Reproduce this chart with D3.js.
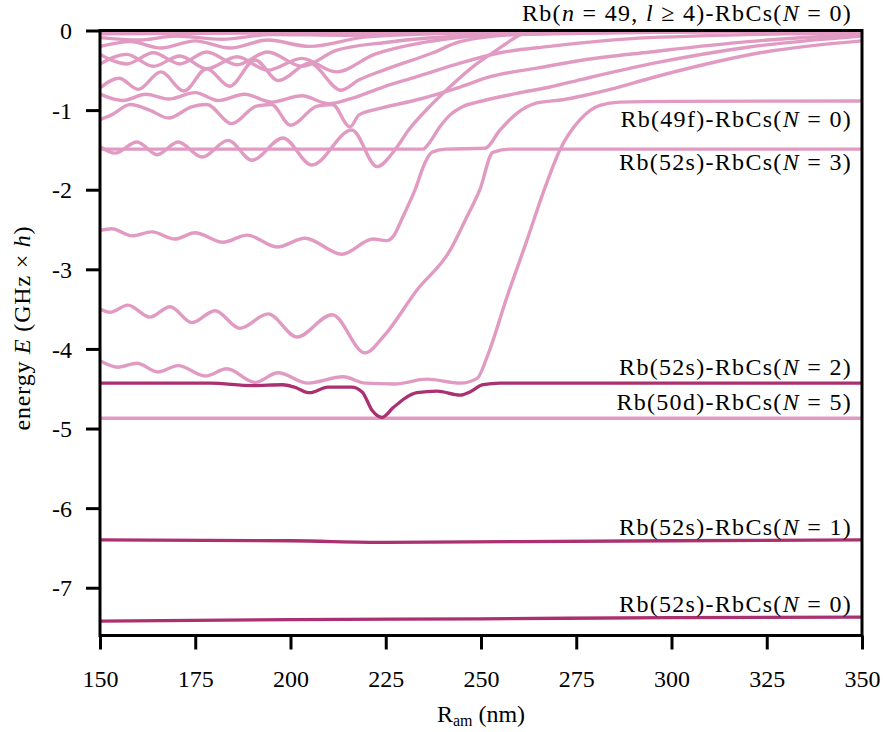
<!DOCTYPE html>
<html><head><meta charset="utf-8">
<script src="https://cdn.jsdelivr.net/npm/d3@7"></script>
<style>body{margin:0;background:#fff}</style>
</head><body>
<svg id="c" width="883" height="732"></svg>
<script>
const xTicks=[150,175,200,225,250,275,300,325,350];
const yTicks=[0,-1,-2,-3,-4,-5,-6,-7];
// dark (Rb(52s)) curves
const dN0=[[150,-7.42],[200,-7.40],[250,-7.39],[300,-7.375],[350,-7.37]];
const dN1=[[150,-6.40],[200,-6.41],[225,-6.43],[260,-6.42],[300,-6.41],[350,-6.40]];
const dN2=[[150,-4.43],[179,-4.43],[190,-4.46],[198,-4.45],[201,-4.48],[205,-4.55],[209.8,-4.48],[216,-4.48],[218.8,-4.54],[221.4,-4.77],[224,-4.86],[226.9,-4.74],[230,-4.62],[233.2,-4.55],[238.5,-4.53],[244.5,-4.58],[247.1,-4.54],[250.5,-4.45],[255,-4.43],[300,-4.43],[350,-4.43]];
// light curves
const l50d=[[150,-4.87],[250,-4.87],[350,-4.87]];
const lP1=[[150,-4.15],[154.7,-4.23],[159.7,-4.18],[165.2,-4.29],[170.5,-4.21],[177.6,-4.34],[183.3,-4.25],[190.7,-4.42],[196.7,-4.30],[204.6,-4.43],[213.8,-4.35],[219.6,-4.43],[227.4,-4.44],[235.8,-4.38],[244.5,-4.43],[249,-4.37],[251.6,-4.10],[256.8,-3.35],[262.1,-2.63],[266.3,-2.04],[270.7,-1.50],[276,-1.12],[281.2,-0.94],[286.5,-0.90],[300,-0.89],[350,-0.885]];
const lP2=[[150,-3.50],[152.6,-3.54],[157.3,-3.45],[163.1,-3.60],[168.4,-3.47],[174.1,-3.67],[180.2,-3.52],[186.7,-3.74],[194.1,-3.56],[201.7,-3.85],[210.9,-3.57],[219.6,-4.05],[224.3,-3.85],[233.2,-3.26],[241.9,-2.76],[246.3,-2.34],[249.7,-2.00],[253.1,-1.53],[257.6,-1.49],[300,-1.49],[350,-1.49]];
const lP4=[[150,-2.51],[153.1,-2.49],[158.4,-2.58],[163.6,-2.53],[169.7,-2.62],[174.9,-2.54],[182.3,-2.66],[188.6,-2.57],[196.5,-2.72],[203.8,-2.61],[213.5,-2.81],[221.7,-2.62],[225.3,-2.64],[226.9,-2.59],[229.5,-2.34],[232.7,-2.00],[235.3,-1.66],[237.1,-1.53],[240.6,-1.49],[251,-1.48],[255,-1.25],[259.4,-1.04],[264.7,-0.91],[271.5,-0.87],[276.8,-0.82],[283.9,-0.74],[294.4,-0.60],[307.5,-0.44],[323.2,-0.28],[350,-0.13]];
const lN3=[[150,-1.49],[200,-1.49],[234.8,-1.49],[236.6,-1.40],[239.2,-1.21],[241.9,-1.06],[245,-0.96],[249,-0.90],[259.4,-0.79],[268.1,-0.71],[276.8,-0.61],[294.4,-0.42],[320,-0.21],[350,-0.07]];
const lP3=[[150,-1.46],[153.9,-1.54],[159.7,-1.40],[165,-1.56],[170.5,-1.40],[176.8,-1.59],[183.6,-1.38],[189.9,-1.63],[198,-1.35],[205.6,-1.69],[216.1,-1.25],[222.7,-1.71],[227.4,-1.50],[231,-1.25],[236,-0.98],[242,-0.70],[248,-0.45],[254,-0.25],[259.7,-0.07],[264,0.02]];
const lC1=[[150,-1.12],[153,-1.06],[158,-0.93],[163,-1.00],[168,-1.10],[174,-0.96],[178,-0.93],[184.6,-1.17],[191,-0.95],[195,-0.93],[200,-1.19],[207,-0.95],[211,-0.93],[215.6,-1.21],[218,-1.06],[224.3,-0.97],[233.2,-0.87],[244.5,-0.71],[252.4,-0.58],[265,-0.47],[276.8,-0.37],[294.4,-0.27],[320,-0.14],[350,-0.05]];
const lC1b=[[150,-0.80],[156,-0.88],[162,-0.80],[168,-0.86],[175,-0.78],[181,-0.88],[188,-0.80],[195,-0.90],[203,-0.82],[210,-0.92],[215.6,-0.86],[224.3,-0.71],[233.2,-0.58],[244.5,-0.41],[255,-0.28],[268,-0.20],[294,-0.09],[350,-0.03]];
const lC2=[[150,-0.72],[155,-0.60],[160,-0.74],[166,-0.52],[172,-0.76],[178,-0.48],[184,-0.70],[190.7,-0.37],[196.8,-0.63],[205,-0.41],[213.3,-0.75],[218,-0.62],[224.3,-0.50],[237.4,-0.28],[244.5,-0.14],[260,-0.05],[300,-0.02],[350,-0.005]];
const lW1=[[150,-0.42],[157,-0.30],[164,-0.45],[171,-0.32],[178,-0.48],[186,-0.33],[194,-0.50],[203,-0.35],[212,-0.52],[222,-0.30],[235,-0.15],[255,-0.05],[300,-0.01],[350,0]];
const lW2=[[150,-0.30],[157,-0.42],[164,-0.28],[171,-0.42],[178,-0.27],[186,-0.43],[194,-0.27],[203,-0.45],[212,-0.25],[225,-0.15],[250,-0.06],[300,-0.015],[350,0]];
const lW3=[[150,-0.20],[158,-0.14],[166,-0.22],[175,-0.13],[184,-0.22],[194,-0.12],[205,-0.20],[220,-0.08],[250,-0.03],[350,0]];
const lW4=[[150,-0.09],[160,-0.12],[170,-0.07],[182,-0.11],[195,-0.05],[215,-0.06],[250,-0.02],[350,0]];
const lW5=[[150,-0.04],[200,-0.03],[350,-0.005]];
const lightCurves=[l50d,lW5,lW4,lW3,lW2,lW1,lC2,lC1b,lC1,lP3,lN3,lP4,lP2,lP1];
const darkCurves=[dN2,dN1,dN0];
const labels=[
 {seg:[["Rb(",0],["n",1],[" = 49, ",0],["l",1],[" ≥ 4)-RbCs(",0],["N",1],[" = 0)",0]],y:21},
 {seg:[["Rb(49f)-RbCs(",0],["N",1],[" = 0)",0]],y:127},
 {seg:[["Rb(52s)-RbCs(",0],["N",1],[" = 3)",0]],y:170},
 {seg:[["Rb(52s)-RbCs(",0],["N",1],[" = 2)",0]],y:375},
 {seg:[["Rb(50d)-RbCs(",0],["N",1],[" = 5)",0]],y:410},
 {seg:[["Rb(52s)-RbCs(",0],["N",1],[" = 1)",0]],y:535},
 {seg:[["Rb(52s)-RbCs(",0],["N",1],[" = 0)",0]],y:612}
];
const light="#e19bc3", dark="#aa3070";
const FONT="'Liberation Serif','Times New Roman',serif";
const svg=d3.select("#c");
const x=d3.scaleLinear().domain([150,350]).range([100,862]);
const y=d3.scaleLinear().domain([-7.6,0]).range([635.5,30.5]);
svg.append("defs").append("clipPath").attr("id","cl").append("rect").attr("x",100).attr("y",30.5).attr("width",762).attr("height",605);
const line=d3.line().x(d=>x(d[0])).y(d=>y(d[1])).curve(d3.curveMonotoneX);
const g=svg.append("g").attr("clip-path","url(#cl)");
g.selectAll("path.l").data(lightCurves).join("path").attr("class","l").attr("d",line).attr("fill","none").attr("stroke",light).attr("stroke-width",3.4);
g.selectAll("path.d").data(darkCurves).join("path").attr("class","d").attr("d",line).attr("fill","none").attr("stroke",dark).attr("stroke-width",3.3);
// frame
svg.append("rect").attr("x",100).attr("y",30.5).attr("width",762).attr("height",605).attr("fill","none").attr("stroke","#000").attr("stroke-width",3);
const xa=svg.append("g").attr("transform","translate(0,635.5)").call(d3.axisBottom(x).tickValues(xTicks).tickSize(14).tickPadding(20).tickFormat(d3.format("d")));
const ya=svg.append("g").attr("transform","translate(100,0)").call(d3.axisLeft(y).tickValues(yTicks).tickSize(14).tickPadding(14).tickFormat(d=>d===0?"0":"-"+Math.abs(d)));
[xa,ya].forEach(a=>{a.select(".domain").remove();a.selectAll(".tick line").attr("stroke","#000").attr("stroke-width",3);a.selectAll("text").attr("font-family",FONT).attr("font-size",24).attr("fill","#000");});
ya.selectAll("text").attr("dy","0.34em");
// labels
labels.forEach(L=>{
 const t=svg.append("text").attr("x",852).attr("y",L.y).attr("text-anchor","end").attr("font-family",FONT).attr("font-size",24).attr("letter-spacing","1.3px");
 L.seg.forEach(s=>t.append("tspan").text(s[0]).attr("font-style",s[1]?"italic":"normal"));
});
// axis titles
const xt=svg.append("text").attr("x",481).attr("y",722).attr("text-anchor","middle").attr("font-family",FONT).attr("font-size",24);
xt.append("tspan").text("R");xt.append("tspan").text("am").attr("font-size",16).attr("dy",4);xt.append("tspan").text(" (nm)").attr("dy",-4);
const yt=svg.append("text").attr("transform","translate(30,328) rotate(-90)").attr("text-anchor","middle").attr("font-family",FONT).attr("font-size",24).attr("letter-spacing","0.8px");
yt.append("tspan").text("energy ");yt.append("tspan").text("E").attr("font-style","italic");yt.append("tspan").text(" (GHz × ");yt.append("tspan").text("h").attr("font-style","italic");yt.append("tspan").text(")");
</script>
</body></html>
